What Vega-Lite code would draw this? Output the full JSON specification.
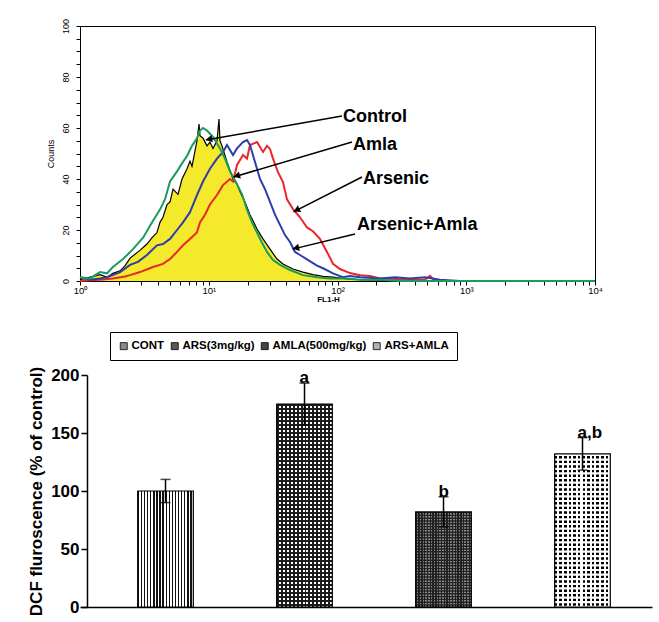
{
"$schema":"https://vega.github.io/schema/vega-lite/v6.json",
"background":"white",
"padding":{"left":27,"top":17,"right":5,"bottom":5},
"config":{"font":"Liberation Sans","view":{"stroke":null},"axis":{"labelColor":"black","titleColor":"black","tickColor":"black","domainColor":"black","grid":false,"labelFlush":false}},
"spacing":27,
"resolve":{"scale":{"fill":"independent","color":"independent"},"legend":{"fill":"independent","color":"independent"}},
"datasets":{
"hist":[
{"series":"Control","fl":1,"count":0.5},{"series":"Control","fl":1.2,"count":1.5},{"series":"Control","fl":1.43,"count":2.5},{"series":"Control","fl":1.62,"count":1.5},{"series":"Control","fl":1.8,"count":3},{"series":"Control","fl":2.05,"count":4},{"series":"Control","fl":2.24,"count":6},{"series":"Control","fl":2.45,"count":9},{"series":"Control","fl":2.92,"count":12},{"series":"Control","fl":3.31,"count":14.5},{"series":"Control","fl":3.63,"count":17},{"series":"Control","fl":3.96,"count":19},{"series":"Control","fl":4.18,"count":23},{"series":"Control","fl":4.41,"count":25},{"series":"Control","fl":4.74,"count":30},{"series":"Control","fl":5,"count":31},{"series":"Control","fl":5.28,"count":36},{"series":"Control","fl":5.77,"count":34},{"series":"Control","fl":6.2,"count":40},{"series":"Control","fl":6.78,"count":44},{"series":"Control","fl":7.15,"count":47},{"series":"Control","fl":7.41,"count":45},{"series":"Control","fl":7.82,"count":51},{"series":"Control","fl":8.1,"count":55},{"series":"Control","fl":8.4,"count":61.5},{"series":"Control","fl":8.55,"count":57},{"series":"Control","fl":9.02,"count":56},{"series":"Control","fl":9.69,"count":53},{"series":"Control","fl":10.22,"count":54.5},{"series":"Control","fl":10.79,"count":52},{"series":"Control","fl":11.59,"count":55},{"series":"Control","fl":12.01,"count":63.5},{"series":"Control","fl":12.23,"count":55},{"series":"Control","fl":12.67,"count":53},{"series":"Control","fl":13.86,"count":46.7},{"series":"Control","fl":15.43,"count":40},{"series":"Control","fl":16.58,"count":38},{"series":"Control","fl":17.49,"count":35},{"series":"Control","fl":19.12,"count":31},{"series":"Control","fl":20.91,"count":26},{"series":"Control","fl":23.71,"count":20.4},{"series":"Control","fl":26.39,"count":16.5},{"series":"Control","fl":29.91,"count":12.5},{"series":"Control","fl":33.89,"count":8.6},{"series":"Control","fl":37.73,"count":6.7},{"series":"Control","fl":45.12,"count":4.7},{"series":"Control","fl":53.95,"count":3.5},{"series":"Control","fl":64.5,"count":2.5},{"series":"Control","fl":77.2,"count":1.8},{"series":"Control","fl":92.3,"count":1.5},{"series":"Control","fl":110,"count":1},{"series":"Control","fl":150,"count":0.5},{"series":"Control","fl":214,"count":0.3},{"series":"Control","fl":306,"count":0},{"series":"Control","fl":10000,"count":0},
{"series":"Arsenic","fl":1,"count":0},{"series":"Arsenic","fl":1.2,"count":0.3},{"series":"Arsenic","fl":1.43,"count":0.5},{"series":"Arsenic","fl":1.8,"count":1},{"series":"Arsenic","fl":2.24,"count":1.8},{"series":"Arsenic","fl":2.45,"count":2.3},{"series":"Arsenic","fl":2.92,"count":3.5},{"series":"Arsenic","fl":3.69,"count":5.5},{"series":"Arsenic","fl":4.41,"count":6.7},{"series":"Arsenic","fl":5,"count":8.6},{"series":"Arsenic","fl":5.67,"count":11.4},{"series":"Arsenic","fl":6.31,"count":14},{"series":"Arsenic","fl":7.15,"count":16.5},{"series":"Arsenic","fl":8.1,"count":19},{"series":"Arsenic","fl":8.55,"count":23},{"series":"Arsenic","fl":9.35,"count":26},{"series":"Arsenic","fl":10.22,"count":30},{"series":"Arsenic","fl":11.59,"count":33.7},{"series":"Arsenic","fl":12.9,"count":37.6},{"series":"Arsenic","fl":14.62,"count":40},{"series":"Arsenic","fl":15.43,"count":39},{"series":"Arsenic","fl":16.58,"count":45.5},{"series":"Arsenic","fl":18.45,"count":49.4},{"series":"Arsenic","fl":19.82,"count":48},{"series":"Arsenic","fl":20.91,"count":53.3},{"series":"Arsenic","fl":23.71,"count":54.5},{"series":"Arsenic","fl":26.39,"count":50.6},{"series":"Arsenic","fl":28.35,"count":53},{"series":"Arsenic","fl":29.91,"count":51.8},{"series":"Arsenic","fl":31.55,"count":48},{"series":"Arsenic","fl":34.51,"count":42.7},{"series":"Arsenic","fl":37.73,"count":38.8},{"series":"Arsenic","fl":40.53,"count":32},{"series":"Arsenic","fl":45.12,"count":28.2},{"series":"Arsenic","fl":51.14,"count":25},{"series":"Arsenic","fl":57.96,"count":21},{"series":"Arsenic","fl":64.5,"count":19.5},{"series":"Arsenic","fl":73.1,"count":16.5},{"series":"Arsenic","fl":82.9,"count":11.4},{"series":"Arsenic","fl":92.3,"count":6.7},{"series":"Arsenic","fl":104.5,"count":4.7},{"series":"Arsenic","fl":125,"count":3.1},{"series":"Arsenic","fl":150,"count":2.3},{"series":"Arsenic","fl":179,"count":2},{"series":"Arsenic","fl":214,"count":1},{"series":"Arsenic","fl":280,"count":0.8},{"series":"Arsenic","fl":366,"count":0.5},{"series":"Arsenic","fl":478,"count":0.5},{"series":"Arsenic","fl":523,"count":2},{"series":"Arsenic","fl":572,"count":0},{"series":"Arsenic","fl":10000,"count":0},
{"series":"Arsenic+Amla","fl":1,"count":1.5},{"series":"Arsenic+Amla","fl":1.2,"count":0.5},{"series":"Arsenic+Amla","fl":1.43,"count":1},{"series":"Arsenic+Amla","fl":1.62,"count":1.5},{"series":"Arsenic+Amla","fl":2.05,"count":3.5},{"series":"Arsenic+Amla","fl":2.45,"count":6.3},{"series":"Arsenic+Amla","fl":2.82,"count":7.5},{"series":"Arsenic+Amla","fl":3.31,"count":10.2},{"series":"Arsenic+Amla","fl":3.96,"count":14},{"series":"Arsenic+Amla","fl":4.41,"count":14.5},{"series":"Arsenic+Amla","fl":5,"count":16.5},{"series":"Arsenic+Amla","fl":5.67,"count":20},{"series":"Arsenic+Amla","fl":6.31,"count":23},{"series":"Arsenic+Amla","fl":7.15,"count":27},{"series":"Arsenic+Amla","fl":8.1,"count":33.7},{"series":"Arsenic+Amla","fl":9.02,"count":39},{"series":"Arsenic+Amla","fl":10.22,"count":44},{"series":"Arsenic+Amla","fl":11.59,"count":48},{"series":"Arsenic+Amla","fl":12.9,"count":50.6},{"series":"Arsenic+Amla","fl":13.86,"count":53.3},{"series":"Arsenic+Amla","fl":15.43,"count":49.4},{"series":"Arsenic+Amla","fl":16.58,"count":52},{"series":"Arsenic+Amla","fl":18.45,"count":54.5},{"series":"Arsenic+Amla","fl":19.82,"count":55.3},{"series":"Arsenic+Amla","fl":20.91,"count":53.3},{"series":"Arsenic+Amla","fl":22.87,"count":46.7},{"series":"Arsenic+Amla","fl":25.01,"count":40},{"series":"Arsenic+Amla","fl":27.35,"count":36},{"series":"Arsenic+Amla","fl":29.91,"count":31},{"series":"Arsenic+Amla","fl":32.7,"count":26},{"series":"Arsenic+Amla","fl":35.76,"count":22},{"series":"Arsenic+Amla","fl":39.1,"count":18},{"series":"Arsenic+Amla","fl":42.76,"count":15.3},{"series":"Arsenic+Amla","fl":46.77,"count":11.4},{"series":"Arsenic+Amla","fl":51.14,"count":10.2},{"series":"Arsenic+Amla","fl":57.96,"count":8.5},{"series":"Arsenic+Amla","fl":64.5,"count":7},{"series":"Arsenic+Amla","fl":69.3,"count":6},{"series":"Arsenic+Amla","fl":77.2,"count":5},{"series":"Arsenic+Amla","fl":92.3,"count":3},{"series":"Arsenic+Amla","fl":110,"count":1.5},{"series":"Arsenic+Amla","fl":125,"count":2},{"series":"Arsenic+Amla","fl":150,"count":1.5},{"series":"Arsenic+Amla","fl":214,"count":1},{"series":"Arsenic+Amla","fl":280,"count":1.5},{"series":"Arsenic+Amla","fl":366,"count":1},{"series":"Arsenic+Amla","fl":478,"count":1.5},{"series":"Arsenic+Amla","fl":625,"count":0.5},{"series":"Arsenic+Amla","fl":894,"count":0},{"series":"Arsenic+Amla","fl":10000,"count":0},
{"series":"Amla","fl":1,"count":1.5},{"series":"Amla","fl":1.2,"count":1},{"series":"Amla","fl":1.43,"count":3.5},{"series":"Amla","fl":1.62,"count":3},{"series":"Amla","fl":1.8,"count":5.5},{"series":"Amla","fl":2.16,"count":8.6},{"series":"Amla","fl":2.58,"count":12.5},{"series":"Amla","fl":3.09,"count":17},{"series":"Amla","fl":3.63,"count":23},{"series":"Amla","fl":4.18,"count":28},{"series":"Amla","fl":4.57,"count":32},{"series":"Amla","fl":5,"count":39},{"series":"Amla","fl":5.67,"count":43},{"series":"Amla","fl":6.31,"count":46.7},{"series":"Amla","fl":6.78,"count":49},{"series":"Amla","fl":7.41,"count":53},{"series":"Amla","fl":8.1,"count":56},{"series":"Amla","fl":8.55,"count":59},{"series":"Amla","fl":9.02,"count":60},{"series":"Amla","fl":9.69,"count":59},{"series":"Amla","fl":10.79,"count":56.5},{"series":"Amla","fl":12.23,"count":52},{"series":"Amla","fl":13.37,"count":48},{"series":"Amla","fl":14.62,"count":43},{"series":"Amla","fl":16.58,"count":38},{"series":"Amla","fl":18.13,"count":34},{"series":"Amla","fl":19.82,"count":28},{"series":"Amla","fl":21.67,"count":23},{"series":"Amla","fl":23.71,"count":19},{"series":"Amla","fl":25.92,"count":15},{"series":"Amla","fl":28.35,"count":11.4},{"series":"Amla","fl":31.55,"count":8.2},{"series":"Amla","fl":35.76,"count":6.3},{"series":"Amla","fl":42.76,"count":4.3},{"series":"Amla","fl":53.95,"count":2.3},{"series":"Amla","fl":69.3,"count":1.5},{"series":"Amla","fl":87.4,"count":1},{"series":"Amla","fl":114,"count":1},{"series":"Amla","fl":150,"count":0.5},{"series":"Amla","fl":214,"count":0.5},{"series":"Amla","fl":306,"count":0},{"series":"Amla","fl":10000,"count":0}
],
"labels":[{"label":"Control","fl":110.3,"count":64.3},{"label":"Amla","fl":131.9,"count":53.3},{"label":"Arsenic","fl":157.8,"count":40},{"label":"Arsenic+Amla","fl":141.7,"count":22}],
"arrows":[{"label":"Control","fl":108.4,"count":64.7,"fl2":9.5,"count2":55.3},{"label":"Amla","fl":129.6,"count":54.5,"fl2":15.6,"count2":40.8},{"label":"Arsenic","fl":155,"count":40.8,"fl2":45.5,"count2":27.1},{"label":"Arsenic+Amla","fl":136.8,"count":18.4,"fl2":44.8,"count2":12.5}],
"heads":[{"label":"Control","fl":10.04,"count":55.6},{"label":"Amla","fl":16.51,"count":41.2},{"label":"Arsenic","fl":48.1,"count":27.8},{"label":"Arsenic+Amla","fl":47.5,"count":12.9}],
"bars":[{"group":"CONT","value":100,"lo":90,"hi":110,"letter":""},{"group":"ARS(3mg/kg)","value":175,"lo":157,"hi":193,"letter":"a"},{"group":"AMLA(500mg/kg)","value":82,"lo":69,"hi":95,"letter":"b"},{"group":"ARS+AMLA","value":132,"lo":118,"hi":146,"letter":"a,b"}]
},
"vconcat":[
{
"width":515,"height":255,
"view":{"stroke":"black","strokeWidth":1},
"encoding":{
"x":{"field":"fl","type":"quantitative","scale":{"type":"log","domain":[1,10000],"nice":false},
"axis":{"title":"FL1-H","titleFontSize":8,"titleFontWeight":"bold","titlePadding":1,"titleX":248,"values":[1,2,3,4,5,6,7,8,9,10,20,30,40,50,60,70,80,90,100,200,300,400,500,600,700,800,900,1000,2000,3000,4000,5000,6000,7000,8000,9000,10000],"labelExpr":"datum.value == 1 ? '10⁰' : datum.value == 10 ? '10¹' : datum.value == 100 ? '10²' : datum.value == 1000 ? '10³' : datum.value == 10000 ? '10⁴' : ''","labelFontSize":9.5,"labelPadding":0,"labelOverlap":false,"labelFlush":false,"tickSize":4}},
"y":{"field":"count","type":"quantitative","scale":{"domain":[0,100],"nice":false},
"axis":{"title":"Counts","titleFontSize":9,"titleFontWeight":"normal","titlePadding":6,"values":[0,5,10,15,20,25,30,35,40,45,50,55,60,65,70,75,80,85,90,95,100],"labelExpr":"datum.value % 20 === 0 ? datum.label : ''","labelAngle":-90,"labelAlign":"center","labelBaseline":"bottom","labelFontSize":9,"labelPadding":6,"labelOverlap":false,"tickSize":4}}
},
"layer":[
{"data":{"name":"hist"},"transform":[{"filter":"datum.series === 'Control'"}],"mark":{"type":"area","color":"#f4e92a","opacity":1}},
{"data":{"name":"hist"},"transform":[{"filter":"datum.series === 'Control'"}],"mark":{"type":"line","color":"#000000","strokeWidth":1.2}},
{"data":{"name":"hist"},"transform":[{"filter":"datum.series !== 'Control'"}],"mark":{"type":"line","strokeWidth":2},"encoding":{"color":{"field":"series","type":"nominal","scale":{"domain":["Arsenic","Arsenic+Amla","Amla"],"range":["#e8262b","#2b3eab","#1a9a5c"]},"legend":null}}},
{"data":{"name":"arrows"},"mark":{"type":"rule","color":"black","strokeWidth":1.5},"encoding":{"x2":{"field":"fl2"},"y2":{"field":"count2"}}},
{"data":{"name":"heads"},"mark":{"type":"point","shape":"triangle-left","filled":true,"color":"black","opacity":1,"size":55},"encoding":{"angle":{"condition":[{"test":"datum.label === 'Control'","value":-10},{"test":"datum.label === 'Amla'","value":-16},{"test":"datum.label === 'Arsenic'","value":-27}],"value":-13}}},
{"data":{"name":"labels"},"mark":{"type":"text","align":"left","baseline":"middle","fontSize":18,"fontWeight":"bold","color":"black"},"encoding":{"text":{"field":"label"}}}
]
},
{
"width":572,"height":232,
"data":{"name":"bars"},
"encoding":{"x":{"field":"group","type":"nominal","sort":null,"scale":{"domain":["CONT","ARS(3mg/kg)","AMLA(500mg/kg)","ARS+AMLA"],"paddingInner":0,"paddingOuter":0.0576,"align":1},"axis":{"title":null,"labels":false,"ticks":false,"domainWidth":1.5}},
"y":{"field":"value","type":"quantitative","scale":{"domain":[0,200],"nice":false},
"axis":{"title":"DCF fluroscence (% of control)","titleFontSize":17,"titleFontWeight":"bold","titlePadding":5,"values":[0,50,100,150,200],"labelFontSize":17,"labelFontWeight":"bold","labelPadding":2,"tickSize":6,"tickWidth":1.5,"domainWidth":1.5,"offset":-7,"labelFlush":false}}},
"layer":[
{"mark":{"type":"bar","width":{"band":0.4}},
"encoding":{
"fill":{"field":"group","type":"nominal","sort":null,"scale":{"domain":["CONT","ARS(3mg/kg)","AMLA(500mg/kg)","ARS+AMLA"],"range":["#8a8a8a","#5a5a5a","#444444","#b0b0b0"]},
"legend":{"orient":"none","legendX":30,"legendY":-43,"direction":"horizontal","title":null,"strokeColor":"black","fillColor":"white","padding":8,"symbolType":"square","symbolSize":49,"symbolStrokeColor":"black","symbolStrokeWidth":0.8,"labelFont":"Liberation Sans","labelFontSize":11.5,"labelFontWeight":"bold","labelColor":"black","labelOffset":2,"columnPadding":4,"labelLimit":300}}}},
{"transform":[{"filter":"datum.group === 'CONT'"}],"mark":{"type":"bar","width":{"band":0.4},"fill":{"gradient":"linear","x1":0,"y1":0,"x2":1,"y2":0,"stops":[
{"offset":0,"color":"#111111"},{"offset":0.025,"color":"#111111"},{"offset":0.025,"color":"#ffffff"},{"offset":0.0556,"color":"#ffffff"},
{"offset":0.0556,"color":"#111111"},{"offset":0.0806,"color":"#111111"},{"offset":0.0806,"color":"#ffffff"},{"offset":0.1111,"color":"#ffffff"},
{"offset":0.1111,"color":"#111111"},{"offset":0.1361,"color":"#111111"},{"offset":0.1361,"color":"#ffffff"},{"offset":0.1667,"color":"#ffffff"},
{"offset":0.1667,"color":"#111111"},{"offset":0.1917,"color":"#111111"},{"offset":0.1917,"color":"#ffffff"},{"offset":0.2222,"color":"#ffffff"},
{"offset":0.2222,"color":"#111111"},{"offset":0.2472,"color":"#111111"},{"offset":0.2472,"color":"#ffffff"},{"offset":0.2778,"color":"#ffffff"},
{"offset":0.2778,"color":"#111111"},{"offset":0.3028,"color":"#111111"},{"offset":0.3028,"color":"#ffffff"},{"offset":0.3333,"color":"#ffffff"},
{"offset":0.3333,"color":"#111111"},{"offset":0.3583,"color":"#111111"},{"offset":0.3583,"color":"#ffffff"},{"offset":0.3889,"color":"#ffffff"},
{"offset":0.3889,"color":"#111111"},{"offset":0.4139,"color":"#111111"},{"offset":0.4139,"color":"#ffffff"},{"offset":0.4444,"color":"#ffffff"},
{"offset":0.4444,"color":"#111111"},{"offset":0.4694,"color":"#111111"},{"offset":0.4694,"color":"#ffffff"},{"offset":0.5,"color":"#ffffff"},
{"offset":0.5,"color":"#111111"},{"offset":0.525,"color":"#111111"},{"offset":0.525,"color":"#ffffff"},{"offset":0.5556,"color":"#ffffff"},
{"offset":0.5556,"color":"#111111"},{"offset":0.5806,"color":"#111111"},{"offset":0.5806,"color":"#ffffff"},{"offset":0.6111,"color":"#ffffff"},
{"offset":0.6111,"color":"#111111"},{"offset":0.6361,"color":"#111111"},{"offset":0.6361,"color":"#ffffff"},{"offset":0.6667,"color":"#ffffff"},
{"offset":0.6667,"color":"#111111"},{"offset":0.6917,"color":"#111111"},{"offset":0.6917,"color":"#ffffff"},{"offset":0.7222,"color":"#ffffff"},
{"offset":0.7222,"color":"#111111"},{"offset":0.7472,"color":"#111111"},{"offset":0.7472,"color":"#ffffff"},{"offset":0.7778,"color":"#ffffff"},
{"offset":0.7778,"color":"#111111"},{"offset":0.8028,"color":"#111111"},{"offset":0.8028,"color":"#ffffff"},{"offset":0.8333,"color":"#ffffff"},
{"offset":0.8333,"color":"#111111"},{"offset":0.8583,"color":"#111111"},{"offset":0.8583,"color":"#ffffff"},{"offset":0.8889,"color":"#ffffff"},
{"offset":0.8889,"color":"#111111"},{"offset":0.9139,"color":"#111111"},{"offset":0.9139,"color":"#ffffff"},{"offset":0.9444,"color":"#ffffff"},
{"offset":0.9444,"color":"#111111"},{"offset":0.9694,"color":"#111111"},{"offset":0.9694,"color":"#ffffff"},{"offset":1,"color":"#ffffff"}
]}}},
{"transform":[{"filter":"datum.group === 'ARS(3mg/kg)'"}],"mark":{"type":"bar","width":{"band":0.4},"fill":{"gradient":"linear","x1":0,"y1":0,"x2":1,"y2":0,"stops":[
{"offset":0,"color":"#1c1c1c"},{"offset":0.0357,"color":"#1c1c1c"},{"offset":0.0357,"color":"#ffffff"},{"offset":0.0714,"color":"#ffffff"},
{"offset":0.0714,"color":"#1c1c1c"},{"offset":0.1071,"color":"#1c1c1c"},{"offset":0.1071,"color":"#ffffff"},{"offset":0.1429,"color":"#ffffff"},
{"offset":0.1429,"color":"#1c1c1c"},{"offset":0.1786,"color":"#1c1c1c"},{"offset":0.1786,"color":"#ffffff"},{"offset":0.2143,"color":"#ffffff"},
{"offset":0.2143,"color":"#1c1c1c"},{"offset":0.25,"color":"#1c1c1c"},{"offset":0.25,"color":"#ffffff"},{"offset":0.2857,"color":"#ffffff"},
{"offset":0.2857,"color":"#1c1c1c"},{"offset":0.3214,"color":"#1c1c1c"},{"offset":0.3214,"color":"#ffffff"},{"offset":0.3571,"color":"#ffffff"},
{"offset":0.3571,"color":"#1c1c1c"},{"offset":0.3929,"color":"#1c1c1c"},{"offset":0.3929,"color":"#ffffff"},{"offset":0.4286,"color":"#ffffff"},
{"offset":0.4286,"color":"#1c1c1c"},{"offset":0.4643,"color":"#1c1c1c"},{"offset":0.4643,"color":"#ffffff"},{"offset":0.5,"color":"#ffffff"},
{"offset":0.5,"color":"#1c1c1c"},{"offset":0.5357,"color":"#1c1c1c"},{"offset":0.5357,"color":"#ffffff"},{"offset":0.5714,"color":"#ffffff"},
{"offset":0.5714,"color":"#1c1c1c"},{"offset":0.6071,"color":"#1c1c1c"},{"offset":0.6071,"color":"#ffffff"},{"offset":0.6429,"color":"#ffffff"},
{"offset":0.6429,"color":"#1c1c1c"},{"offset":0.6786,"color":"#1c1c1c"},{"offset":0.6786,"color":"#ffffff"},{"offset":0.7143,"color":"#ffffff"},
{"offset":0.7143,"color":"#1c1c1c"},{"offset":0.75,"color":"#1c1c1c"},{"offset":0.75,"color":"#ffffff"},{"offset":0.7857,"color":"#ffffff"},
{"offset":0.7857,"color":"#1c1c1c"},{"offset":0.8214,"color":"#1c1c1c"},{"offset":0.8214,"color":"#ffffff"},{"offset":0.8571,"color":"#ffffff"},
{"offset":0.8571,"color":"#1c1c1c"},{"offset":0.8929,"color":"#1c1c1c"},{"offset":0.8929,"color":"#ffffff"},{"offset":0.9286,"color":"#ffffff"},
{"offset":0.9286,"color":"#1c1c1c"},{"offset":0.9643,"color":"#1c1c1c"},{"offset":0.9643,"color":"#ffffff"},{"offset":1,"color":"#ffffff"}
]}}},
{"transform":[{"filter":"datum.group === 'ARS(3mg/kg)'"}],"mark":{"type":"rule","strokeWidth":55.6,"stroke":"#1c1c1c","strokeDash":[2,2],"strokeCap":"butt"},"encoding":{"y2":{"datum":0}}},
{"transform":[{"filter":"datum.group === 'AMLA(500mg/kg)'"}],"mark":{"type":"bar","width":{"band":0.4},"fill":{"gradient":"linear","x1":0,"y1":0,"x2":1,"y2":0,"stops":[
{"offset":0,"color":"#222222"},{"offset":0.025,"color":"#222222"},{"offset":0.025,"color":"#8c8c8c"},{"offset":0.05,"color":"#8c8c8c"},
{"offset":0.05,"color":"#222222"},{"offset":0.075,"color":"#222222"},{"offset":0.075,"color":"#8c8c8c"},{"offset":0.1,"color":"#8c8c8c"},
{"offset":0.1,"color":"#222222"},{"offset":0.125,"color":"#222222"},{"offset":0.125,"color":"#8c8c8c"},{"offset":0.15,"color":"#8c8c8c"},
{"offset":0.15,"color":"#222222"},{"offset":0.175,"color":"#222222"},{"offset":0.175,"color":"#8c8c8c"},{"offset":0.2,"color":"#8c8c8c"},
{"offset":0.2,"color":"#222222"},{"offset":0.225,"color":"#222222"},{"offset":0.225,"color":"#8c8c8c"},{"offset":0.25,"color":"#8c8c8c"},
{"offset":0.25,"color":"#222222"},{"offset":0.275,"color":"#222222"},{"offset":0.275,"color":"#8c8c8c"},{"offset":0.3,"color":"#8c8c8c"},
{"offset":0.3,"color":"#222222"},{"offset":0.325,"color":"#222222"},{"offset":0.325,"color":"#8c8c8c"},{"offset":0.35,"color":"#8c8c8c"},
{"offset":0.35,"color":"#222222"},{"offset":0.375,"color":"#222222"},{"offset":0.375,"color":"#8c8c8c"},{"offset":0.4,"color":"#8c8c8c"},
{"offset":0.4,"color":"#222222"},{"offset":0.425,"color":"#222222"},{"offset":0.425,"color":"#8c8c8c"},{"offset":0.45,"color":"#8c8c8c"},
{"offset":0.45,"color":"#222222"},{"offset":0.475,"color":"#222222"},{"offset":0.475,"color":"#8c8c8c"},{"offset":0.5,"color":"#8c8c8c"},
{"offset":0.5,"color":"#222222"},{"offset":0.525,"color":"#222222"},{"offset":0.525,"color":"#8c8c8c"},{"offset":0.55,"color":"#8c8c8c"},
{"offset":0.55,"color":"#222222"},{"offset":0.575,"color":"#222222"},{"offset":0.575,"color":"#8c8c8c"},{"offset":0.6,"color":"#8c8c8c"},
{"offset":0.6,"color":"#222222"},{"offset":0.625,"color":"#222222"},{"offset":0.625,"color":"#8c8c8c"},{"offset":0.65,"color":"#8c8c8c"},
{"offset":0.65,"color":"#222222"},{"offset":0.675,"color":"#222222"},{"offset":0.675,"color":"#8c8c8c"},{"offset":0.7,"color":"#8c8c8c"},
{"offset":0.7,"color":"#222222"},{"offset":0.725,"color":"#222222"},{"offset":0.725,"color":"#8c8c8c"},{"offset":0.75,"color":"#8c8c8c"},
{"offset":0.75,"color":"#222222"},{"offset":0.775,"color":"#222222"},{"offset":0.775,"color":"#8c8c8c"},{"offset":0.8,"color":"#8c8c8c"},
{"offset":0.8,"color":"#222222"},{"offset":0.825,"color":"#222222"},{"offset":0.825,"color":"#8c8c8c"},{"offset":0.85,"color":"#8c8c8c"},
{"offset":0.85,"color":"#222222"},{"offset":0.875,"color":"#222222"},{"offset":0.875,"color":"#8c8c8c"},{"offset":0.9,"color":"#8c8c8c"},
{"offset":0.9,"color":"#222222"},{"offset":0.925,"color":"#222222"},{"offset":0.925,"color":"#8c8c8c"},{"offset":0.95,"color":"#8c8c8c"},
{"offset":0.95,"color":"#222222"},{"offset":0.975,"color":"#222222"},{"offset":0.975,"color":"#8c8c8c"},{"offset":1,"color":"#8c8c8c"}
]}}},
{"transform":[{"filter":"datum.group === 'AMLA(500mg/kg)'"}],"mark":{"type":"rule","strokeWidth":55.6,"stroke":"#222222","strokeDash":[1.4,1.4],"strokeCap":"butt"},"encoding":{"y2":{"datum":0}}},
{"transform":[{"filter":"datum.group === 'ARS+AMLA'"}],"mark":{"type":"bar","width":{"band":0.4},"fill":{"gradient":"linear","x1":0,"y1":0,"x2":1,"y2":0,"stops":[
{"offset":0,"color":"#000000"},{"offset":0.0458,"color":"#000000"},{"offset":0.0458,"color":"#ffffff"},{"offset":0.0833,"color":"#ffffff"},
{"offset":0.0833,"color":"#000000"},{"offset":0.1291,"color":"#000000"},{"offset":0.1291,"color":"#ffffff"},{"offset":0.1667,"color":"#ffffff"},
{"offset":0.1667,"color":"#000000"},{"offset":0.2125,"color":"#000000"},{"offset":0.2125,"color":"#ffffff"},{"offset":0.25,"color":"#ffffff"},
{"offset":0.25,"color":"#000000"},{"offset":0.2958,"color":"#000000"},{"offset":0.2958,"color":"#ffffff"},{"offset":0.3333,"color":"#ffffff"},
{"offset":0.3333,"color":"#000000"},{"offset":0.3791,"color":"#000000"},{"offset":0.3791,"color":"#ffffff"},{"offset":0.4167,"color":"#ffffff"},
{"offset":0.4167,"color":"#000000"},{"offset":0.4625,"color":"#000000"},{"offset":0.4625,"color":"#ffffff"},{"offset":0.5,"color":"#ffffff"},
{"offset":0.5,"color":"#000000"},{"offset":0.5458,"color":"#000000"},{"offset":0.5458,"color":"#ffffff"},{"offset":0.5833,"color":"#ffffff"},
{"offset":0.5833,"color":"#000000"},{"offset":0.6291,"color":"#000000"},{"offset":0.6291,"color":"#ffffff"},{"offset":0.6667,"color":"#ffffff"},
{"offset":0.6667,"color":"#000000"},{"offset":0.7125,"color":"#000000"},{"offset":0.7125,"color":"#ffffff"},{"offset":0.75,"color":"#ffffff"},
{"offset":0.75,"color":"#000000"},{"offset":0.7958,"color":"#000000"},{"offset":0.7958,"color":"#ffffff"},{"offset":0.8333,"color":"#ffffff"},
{"offset":0.8333,"color":"#000000"},{"offset":0.8791,"color":"#000000"},{"offset":0.8791,"color":"#ffffff"},{"offset":0.9167,"color":"#ffffff"},
{"offset":0.9167,"color":"#000000"},{"offset":0.9625,"color":"#000000"},{"offset":0.9625,"color":"#ffffff"},{"offset":1,"color":"#ffffff"}
]}}},
{"transform":[{"filter":"datum.group === 'ARS+AMLA'"}],"mark":{"type":"rule","strokeWidth":55.6,"stroke":"#ffffff","strokeDash":[2.2,2.4],"strokeCap":"butt"},"encoding":{"y2":{"datum":0}}},
{"mark":{"type":"bar","width":{"band":0.4},"fillOpacity":0,"stroke":"black","strokeWidth":1.2}},
{"mark":{"type":"rule","color":"black","strokeWidth":1.5},"encoding":{"y":{"field":"lo","type":"quantitative","title":"DCF fluroscence (% of control)"},"y2":{"field":"hi"}}},
{"mark":{"type":"tick","color":"black","thickness":1.5,"size":10},"encoding":{"y":{"field":"hi","type":"quantitative","title":"DCF fluroscence (% of control)"}}},
{"mark":{"type":"tick","color":"black","thickness":1.5,"size":10},"encoding":{"y":{"field":"lo","type":"quantitative","title":"DCF fluroscence (% of control)"}}},
{"mark":{"type":"text","align":"left","baseline":"alphabetic","dx":-5,"fontSize":17,"fontWeight":"bold","color":"black"},"encoding":{"y":{"field":"hi","type":"quantitative","title":"DCF fluroscence (% of control)"},"text":{"field":"letter"}}}
]
}
]
}
